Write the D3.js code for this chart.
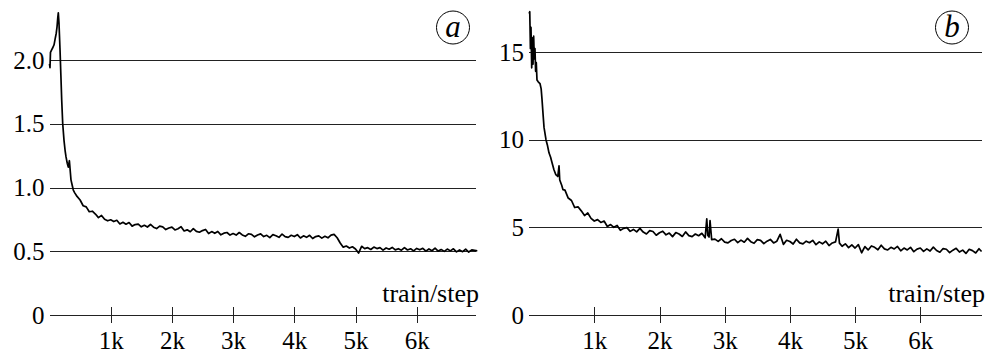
<!DOCTYPE html>
<html>
<head>
<meta charset="utf-8">
<script src="https://cdn.jsdelivr.net/npm/d3@7"></script>
</head>
<body style="margin:0">
<svg id="chart" width="986" height="356" font-family="Liberation Serif"></svg>
<script>

const SERIF = "Liberation Serif";

const STEP_TICKS = [1000, 2000, 3000, 4000, 5000, 6000];
const STEP_TICK_LABELS = ["1k", "2k", "3k", "4k", "5k", "6k"];
const X_TITLE = "train/step";

const LEFT_Y_TICKS = [0, 0.5, 1.0, 1.5, 2.0];
const LEFT_Y_LABELS = ["0", "0.5", "1.0", "1.5", "2.0"];
const RIGHT_Y_TICKS = [0, 5, 10, 15];
const RIGHT_Y_LABELS = ["0", "5", "10", "15"];

const PANEL_TAGS = ["a", "b"];

// panel (a)
const leftSteps = [
	0, 8, 16, 35, 57, 75, 90, 110, 123, 135, 144, 155, 172, 186, 199, 216, 237, 255, 270, 290,
	307, 325, 351, 370, 389, 410,
	450, 500, 550, 600, 650, 700, 750, 800, 850, 900,
	950, 1000, 1050, 1100, 1150, 1200, 1250, 1300, 1350, 1400,
	1450, 1500, 1550, 1600, 1650, 1700, 1750, 1800, 1850, 1900,
	1950, 2000, 2050, 2100, 2150, 2200, 2250, 2300, 2350, 2400,
	2450, 2500, 2550, 2600, 2650, 2700, 2750, 2800, 2850, 2900,
	2950, 3000, 3050, 3100, 3150, 3200, 3250, 3300, 3350, 3400,
	3450, 3500, 3550, 3600, 3650, 3700, 3750, 3800, 3850, 3900,
	3950, 4000, 4050, 4100, 4150, 4200, 4250, 4300, 4350, 4400,
	4450, 4500, 4550, 4600, 4650, 4700, 4750, 4800, 4850, 4900,
	4950, 5000, 5050, 5100, 5150, 5200, 5250, 5300, 5350, 5400,
	5450, 5500, 5550, 5600, 5650, 5700, 5750, 5800, 5850, 5900,
	5950, 6000, 6050, 6100, 6150, 6200, 6250, 6300, 6350, 6400,
	6450, 6500, 6550, 6600, 6650, 6700, 6750, 6800, 6850, 6900,
	6990
];
const leftLoss = [
	1.97, 1.94, 2.06, 2.08, 2.10, 2.12, 2.16, 2.21, 2.26, 2.33, 2.37, 2.29, 2.08, 1.88, 1.69, 1.50, 1.37, 1.29, 1.24, 1.19,
	1.16, 1.21, 1.06, 1.02, 0.98, 0.96,
	0.930, 0.902, 0.857, 0.848, 0.810, 0.814, 0.792, 0.764, 0.781, 0.751,
	0.739, 0.747, 0.733, 0.743, 0.714, 0.727, 0.712, 0.725, 0.697, 0.709,
	0.713, 0.692, 0.704, 0.690, 0.710, 0.689, 0.678, 0.697, 0.691, 0.670,
	0.682, 0.689, 0.667, 0.676, 0.693, 0.659, 0.668, 0.653, 0.678, 0.656,
	0.649, 0.662, 0.671, 0.639, 0.654, 0.641, 0.655, 0.629, 0.642, 0.647,
	0.627, 0.639, 0.627, 0.647, 0.628, 0.617, 0.637, 0.633, 0.613, 0.627,
	0.636, 0.615, 0.625, 0.607, 0.630, 0.622, 0.609, 0.635, 0.615, 0.609,
	0.625, 0.615, 0.630, 0.604, 0.621, 0.609, 0.625, 0.600, 0.615, 0.621,
	0.603, 0.617, 0.605, 0.627, 0.632, 0.606, 0.565, 0.532, 0.541, 0.525,
	0.535, 0.518, 0.486, 0.539, 0.521, 0.528, 0.514, 0.533, 0.521, 0.528,
	0.509, 0.526, 0.516, 0.530, 0.511, 0.520, 0.508, 0.529, 0.510, 0.519,
	0.503, 0.522, 0.511, 0.523, 0.501, 0.518, 0.504, 0.524, 0.501, 0.513,
	0.499, 0.517, 0.503, 0.519, 0.495, 0.510, 0.497, 0.516, 0.494, 0.511,
	0.503
];

// panel (b)
const rightSteps = [
	0, 10, 14, 20, 29, 40, 50, 60, 70, 80, 90, 100, 110, 121, 140, 167, 185, 198, 215, 229,
	259, 280, 305, 330, 351, 380, 410, 440, 459, 470, 500, 520,
	550, 600, 650, 700, 750, 800, 850, 900, 950, 1000,
	1050, 1100, 1150, 1200, 1250, 1300, 1350, 1400, 1450, 1500,
	1550, 1600, 1650, 1700, 1750, 1800, 1850, 1900, 1950, 2000,
	2050, 2100, 2150, 2200, 2250, 2300, 2350, 2400, 2450, 2500,
	2550, 2600, 2650, 2700, 2725, 2740, 2760, 2775, 2800, 2850, 2900, 2950, 3000,
	3050, 3100, 3150, 3200, 3250, 3300, 3350, 3400, 3450, 3500,
	3550, 3600, 3650, 3700, 3750, 3800, 3850, 3900, 3950, 4000,
	4050, 4100, 4150, 4200, 4250, 4300, 4350, 4400, 4450, 4500,
	4550, 4600, 4650, 4700, 4740, 4760, 4800, 4850, 4900, 4950, 5000,
	5050, 5100, 5150, 5200, 5250, 5300, 5350, 5400, 5450, 5500,
	5550, 5600, 5650, 5700, 5750, 5800, 5850, 5900, 5950, 6000,
	6050, 6100, 6150, 6200, 6250, 6300, 6350, 6400, 6450, 6500,
	6550, 6600, 6650, 6700, 6750, 6800, 6850, 6900, 6940
];
const rightLoss = [
	17.2, 17.3, 16.5, 15.2, 16.4, 14.1, 15.8, 14.3, 15.9, 14.6, 15.2, 13.9, 14.4, 13.4, 13.3, 13.2, 12.9, 12.3, 11.4, 10.7,
	10.0, 9.7, 9.25, 9.0, 8.7, 8.3, 8.0, 7.9, 8.5, 7.7, 7.4, 7.15,
	7.12, 6.67, 6.53, 6.13, 6.17, 5.94, 5.67, 5.82, 5.51, 5.36,
	5.44, 5.28, 5.36, 5.05, 5.16, 5.00, 5.11, 4.83, 4.94, 4.98,
	4.77, 4.88, 4.74, 4.94, 4.73, 4.62, 4.81, 4.76, 4.55, 4.69,
	4.78, 4.57, 4.67, 4.47, 4.70, 4.62, 4.48, 4.74, 4.53, 4.47,
	4.62, 4.52, 4.66, 4.40, 5.48, 4.55, 4.45, 5.38, 4.30, 4.33, 4.20, 4.35, 4.16,
	4.11, 4.25, 4.32, 4.13, 4.27, 4.15, 4.37, 4.18, 4.09, 4.30,
	4.26, 4.07, 4.21, 4.31, 4.11, 4.21, 4.60, 4.03, 4.26, 4.19,
	4.05, 4.32, 4.11, 4.06, 4.21, 4.12, 4.26, 4.01, 4.17, 4.06,
	4.21, 3.96, 4.11, 4.17, 4.90, 4.10, 3.92, 4.06, 3.84, 4.00, 3.82,
	4.01, 3.55, 3.90, 3.71, 3.94, 3.86, 3.72, 3.98, 3.77, 3.71,
	3.86, 3.77, 3.91, 3.66, 3.82, 3.71, 3.86, 3.61, 3.76, 3.82,
	3.63, 3.77, 3.65, 3.87, 3.68, 3.58, 3.79, 3.75, 3.56, 3.70,
	3.80, 3.59, 3.70, 3.51, 3.75, 3.67, 3.54, 3.78, 3.62
];

const AXIS_Y = 315;
const STEP_MAX = 7000;

/*
Put the serif face on a text selection both as attribute and as inline style.
*/
function serif(sel, size, italic){
	sel.attr("font-family", SERIF)
		.attr("font-size", size)
		.style("font-family", "'" + SERIF + "'")
		.style("font-size", size + "px")
		.style("font-style", italic ? "italic" : "normal")
		.attr("fill", "#000");
	return sel;
}

class LossPanel {

	constructor(svg, args){
		this.svg = svg;
		this.args = args;
		this.data = args.steps.map((s, i) => [s, args.values[i]]);
		this.x = d3.scaleLinear().domain([0, STEP_MAX]).range([args.left, args.left + args.pxPerK * STEP_MAX / 1000]);
		this.y = d3.scaleLinear().domain([0, args.yMax]).range([AXIS_Y, args.yTop]);
		this.g = svg.append("g");
	}

	createGraph(){
		this.drawGrid();
		this.drawXAxis();
		this.drawLine();
		this.drawTag();
	}

	drawGrid(){
		let a = this.args;
		let gridWidth = a.gridEnd - a.left;
		let yAxis = d3.axisLeft(this.y)
			.tickValues(a.yTicks)
			.tickFormat((d, i) => a.yLabels[i])
			.tickSizeInner(-gridWidth)
			.tickSizeOuter(0)
			.tickPadding(5);

		let gy = this.g.append("g")
			.attr("transform", "translate(" + a.left + ",0)")
			.call(yAxis)
			.attr("font-family", SERIF);
		gy.select(".domain").remove();
		gy.selectAll(".tick line")
			.attr("stroke", "#222")
			.attr("shape-rendering", "crispEdges");
		serif(gy.selectAll(".tick text"), 25, false);
	}

	drawXAxis(){
		let a = this.args;
		let xAxis = d3.axisBottom(this.x)
			.tickValues(STEP_TICKS)
			.tickFormat((d, i) => STEP_TICK_LABELS[i])
			.tickSizeInner(8)
			.tickSizeOuter(0);

		let gx = this.g.append("g")
			.attr("transform", "translate(0," + AXIS_Y + ")")
			.call(xAxis)
			.attr("font-family", SERIF);
		gx.select(".domain").remove();
		gx.selectAll(".tick line")
			.attr("y1", -8)
			.attr("stroke", "#222")
			.attr("shape-rendering", "crispEdges");
		serif(gx.selectAll(".tick text"), 25, false)
			.attr("y", 34)
			.attr("dy", 0);

		// axis title sits above the right end of the axis
		serif(this.g.append("text"), 26, false)
			.attr("x", a.titleRight)
			.attr("y", 302)
			.attr("text-anchor", "end")
			.text(X_TITLE);
	}

	drawLine(){
		let valueLine = d3.line()
			.x(d => this.x(d[0]))
			.y(d => this.y(d[1]));

		this.g.append("path")
			.datum(this.data)
			.attr("fill", "none")
			.attr("stroke", "#000")
			.attr("stroke-width", 1.7)
			.attr("stroke-linejoin", "round")
			.attr("d", valueLine);
	}

	drawTag(){
		let a = this.args;
		this.g.append("circle")
			.attr("cx", a.tagX)
			.attr("cy", 27.5)
			.attr("r", 16.5)
			.attr("fill", "none")
			.attr("stroke", "#000")
			.attr("stroke-width", 1);
		serif(this.g.append("text"), 31, true)
			.attr("x", a.tagX)
			.attr("y", 37)
			.attr("text-anchor", "middle")
			.text(a.tag);
	}
}

let svg = d3.select("#chart");

let panelA = new LossPanel(svg, {
	steps: leftSteps,
	values: leftLoss,
	yTicks: LEFT_Y_TICKS,
	yLabels: LEFT_Y_LABELS,
	yMax: 2.0,
	yTop: 60,
	left: 49.5,
	pxPerK: 61.2,
	gridEnd: 476,
	titleRight: 479,
	tagX: 453,
	tag: PANEL_TAGS[0]
});
panelA.createGraph();

let panelB = new LossPanel(svg, {
	steps: rightSteps,
	values: rightLoss,
	yTicks: RIGHT_Y_TICKS,
	yLabels: RIGHT_Y_LABELS,
	yMax: 15,
	yTop: 52,
	left: 529.1,
	pxPerK: 65.2,
	gridEnd: 982,
	titleRight: 985,
	tagX: 952,
	tag: PANEL_TAGS[1]
});
panelB.createGraph();

</script>
</body>
</html>
